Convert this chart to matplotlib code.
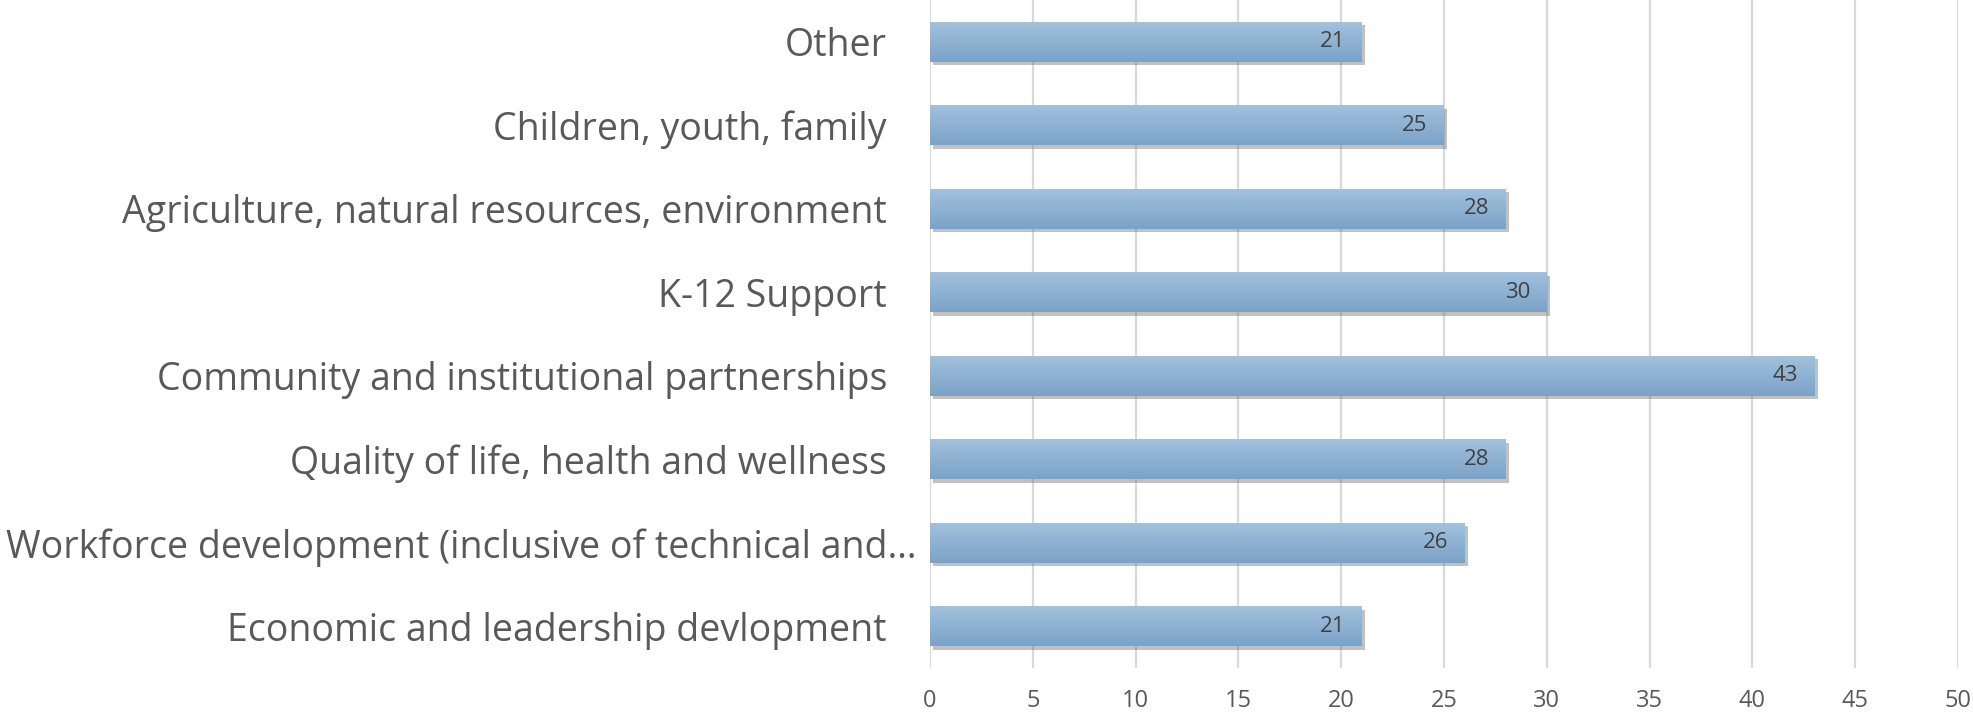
import numpy as np
import matplotlib
matplotlib.use("Agg")
import matplotlib.pyplot as plt
import matplotlib.patheffects as pe
from matplotlib.colors import LinearSegmentedColormap
from matplotlib.transforms import ScaledTranslation

# categories listed bottom to top
categories = [
    "Economic and leadership devlopment",
    "Workforce development (inclusive of technical and\u2026",
    "Quality of life, health and wellness",
    "Community and institutional partnerships",
    "K-12 Support",
    "Agriculture, natural resources, environment",
    "Children, youth, family",
    "Other",
]
counts = [21, 26, 28, 43, 30, 28, 25, 21]
x_ticks = [0, 5, 10, 15, 20, 25, 30, 35, 40, 45, 50]

plt.rcParams['font.family'] = ['Open Sans', 'DejaVu Sans']

fig = plt.figure(figsize=(19.73, 7.13), dpi=100)
ax = fig.add_axes([930 / 1973, 1 - 668 / 713, 1028 / 1973, 668 / 713])

y = np.arange(len(categories))
bar_h = 0.48
bars = ax.barh(y, counts, height=bar_h, color="#8fb1d3", zorder=2,
               path_effects=[pe.SimplePatchShadow(offset=(2.5, -2.5),
                                                  shadow_rgbFace="#666666",
                                                  alpha=0.4),
                             pe.Normal()])

# vertical gradient fill clipped to each bar
grad = LinearSegmentedColormap.from_list("bar", ["#7ba2c7", "#a3c2de"])
ramp = np.linspace(0, 1, 64).reshape(-1, 1)
for b in bars:
    x0, y0 = b.get_x(), b.get_y()
    im = ax.imshow(ramp, cmap=grad, aspect="auto", origin="lower",
                   extent=[x0, x0 + b.get_width(), y0, y0 + b.get_height()],
                   zorder=3, interpolation="bilinear")
    im.set_clip_path(b)

# value labels just inside the bar end
for yi, v in zip(y, counts):
    ax.text(v - 0.8, yi, str(v), ha="right", va="center",
            fontsize=16, color="#404040", zorder=4)

ax.set_xlim(0, 50)
ax.set_ylim(-0.5, len(categories) - 0.5)
ax.set_xticks(x_ticks)
ax.set_xticklabels([str(t) for t in x_ticks])
ax.set_yticks(y)
ax.set_yticklabels(categories)

ax.grid(axis="x", color="#d9d9d9", linewidth=1.6, zorder=0)
ax.set_axisbelow(True)
for s in ax.spines.values():
    s.set_visible(False)

ax.tick_params(axis="x", length=0, pad=15, labelsize=17, labelcolor="#595959")
ax.tick_params(axis="y", length=0, pad=31, labelsize=27, labelcolor="#595959")

# the truncated label sits a little further right
long_lbl = ax.get_yticklabels()[1]
long_lbl.set_transform(long_lbl.get_transform() +
                       ScaledTranslation(30 / 100, 0, fig.dpi_scale_trans))

fig.savefig("out.png", dpi=100)
